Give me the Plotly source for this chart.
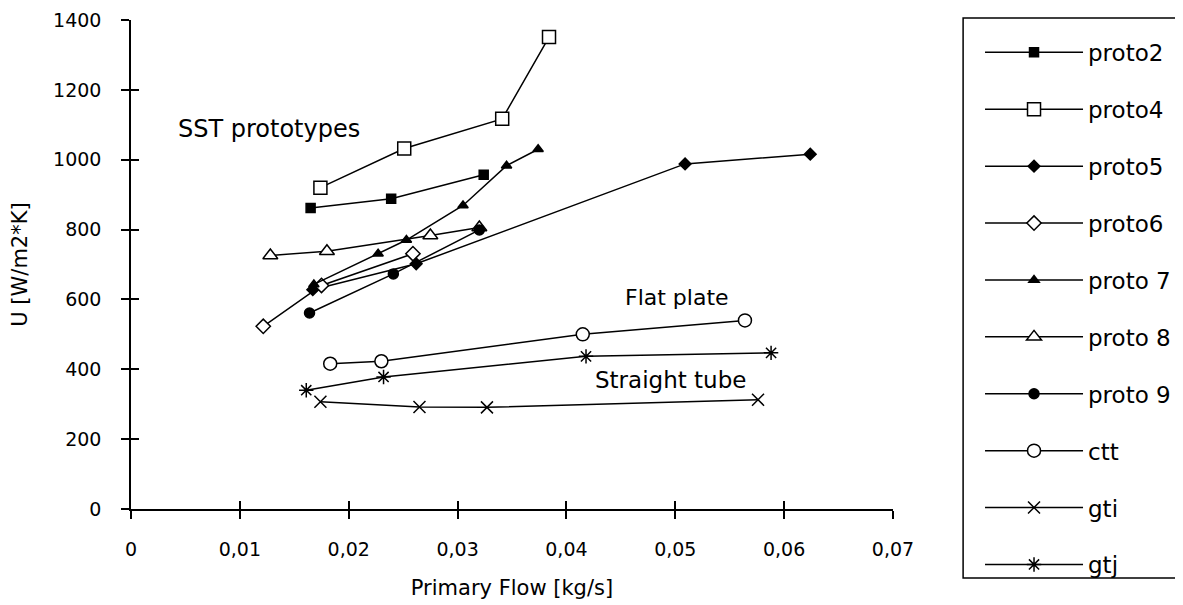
import plotly.graph_objects as go

# values
flow_proto2 = [0.0165, 0.0239, 0.0324]
u_proto2 = [862, 888, 957]

flow_proto4 = [0.0174, 0.0251, 0.0341, 0.0384]
u_proto4 = [920, 1032, 1117, 1351]

flow_proto5 = [0.0167, 0.0262, 0.0509, 0.0624]
u_proto5 = [628, 702, 988, 1016]

flow_proto6 = [0.01215, 0.0175, 0.0259]
u_proto6 = [523, 640, 731]

flow_proto7 = [0.0168, 0.0227, 0.0253, 0.0305, 0.0345, 0.0374]
u_proto7 = [643, 731, 770, 869, 983, 1030]

flow_proto8 = [0.0128, 0.0180, 0.0275, 0.0320]
u_proto8 = [726, 738, 783, 806]

flow_proto9 = [0.0164, 0.0241, 0.0320]
u_proto9 = [561, 673, 799]

flow_ctt = [0.0183, 0.0230, 0.0415, 0.0564]
u_ctt = [416, 423, 500, 540]

flow_gti = [0.0174, 0.0265, 0.0327, 0.0576]
u_gti = [307, 292, 291, 313]

flow_gtj = [0.0161, 0.0232, 0.0418, 0.0588]
u_gtj = [340, 378, 437, 447]

# name, x, y, symbol, size, fill
series = [
    ('proto2', flow_proto2, u_proto2, 'square', 9, 'black'),
    ('proto4', flow_proto4, u_proto4, 'square', 13, 'white'),
    ('proto5', flow_proto5, u_proto5, 'diamond', 9, 'black'),
    ('proto6', flow_proto6, u_proto6, 'diamond', 11, 'white'),
    ('proto 7', flow_proto7, u_proto7, 'triangle-up', 9, 'black'),
    ('proto 8', flow_proto8, u_proto8, 'triangle-up', 13, 'white'),
    ('proto 9', flow_proto9, u_proto9, 'circle', 10, 'black'),
    ('ctt', flow_ctt, u_ctt, 'circle', 13, 'white'),
    ('gti', flow_gti, u_gti, 'x-thin-open', 12, 'black'),
    ('gtj', flow_gtj, u_gtj, 'asterisk-open', 12, 'black'),
]

FONT = 'DejaVu Sans'

fig = go.Figure()
for name, xs, ys, symbol, size, fill in series:
    fig.add_trace(go.Scatter(
        x=xs, y=ys, name=name, mode='lines+markers', legendgroup=name,
        line=dict(color='black', width=1.5),
        marker=dict(symbol=symbol, size=size, color=fill,
                    line=dict(color='black', width=1.5)),
    ))

# invisible copy on the overlay axes, only so their inside ticks get drawn
fig.add_trace(go.Scatter(x=flow_gti, y=u_gti, xaxis='x2', yaxis='y2',
                         mode='markers', marker=dict(opacity=0),
                         showlegend=False, hoverinfo='skip'))

notes = [('SST prototypes', 0.01267, 1089, 24),
         ('Flat plate', 0.0502, 606, 22),
         ('Straight tube', 0.0496, 369, 23)]
for txt, nx, ny, fs in notes:
    fig.add_annotation(x=nx, y=ny, text=txt, showarrow=False,
                       font=dict(family=FONT, size=fs, color='black'))

# legend frame (runs off the right edge like the scan)
fig.add_shape(type='rect', xref='paper', yref='paper',
              x0=1.092, x1=1.5, y0=-0.141, y1=1.004,
              line=dict(color='black', width=1.5))

axis_common = dict(showline=True, linecolor='black', linewidth=1.5,
                   showgrid=False, zeroline=False, ticks='outside',
                   ticklen=8, tickwidth=1.5, tickcolor='black',
                   tickfont=dict(family=FONT, size=19, color='black'))

inner_ticks = dict(ticks='inside', ticklen=8, tickwidth=1.5, tickcolor='black',
                   showticklabels=False, showline=False, showgrid=False,
                   zeroline=False, layer='above traces')

# the page body adds 8px around the figure, so the figure is 8px smaller
fig.update_layout(
    width=1175, height=597,
    margin=dict(l=123, r=290, t=12, b=96, autoexpand=False),
    paper_bgcolor='white', plot_bgcolor='white',
    separators=', ',
    font=dict(family=FONT, color='black'),
    xaxis=dict(range=[0, 0.07], dtick=0.01, tick0=0, ticklabelstandoff=14,
               title=dict(text='Primary Flow [kg/s]', font=dict(size=21), standoff=22),
               **axis_common),
    yaxis=dict(range=[0, 1400], dtick=200, tick0=0, ticklabelstandoff=16,
               title=dict(text='U [W/m2*K]', font=dict(size=21), standoff=22),
               **axis_common),
    # second set of axes only to make the tick marks cross the axis lines
    xaxis2=dict(overlaying='x', anchor='y', side='bottom', range=[0, 0.07],
                dtick=0.01, tick0=0, **inner_ticks),
    yaxis2=dict(overlaying='y', anchor='x', side='left', range=[0, 1400],
                dtick=200, tick0=0, **inner_ticks),
    showlegend=True,
    legend=dict(x=1.1142, y=0.9777, xanchor='left', yanchor='top',
                bgcolor='rgba(0,0,0,0)', borderwidth=0, maxheight=600,
                font=dict(family=FONT, size=23, color='black'),
                itemwidth=98, tracegroupgap=24),
)

fig.write_html("out.html")
